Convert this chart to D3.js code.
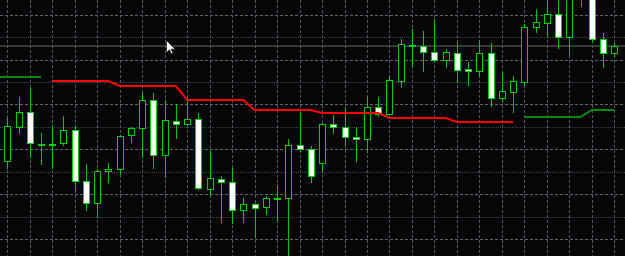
<!DOCTYPE html>
<html>
<head>
<meta charset="utf-8">
<script src="https://cdn.jsdelivr.net/npm/d3@7/dist/d3.min.js"></script>
<style>
  html, body { margin: 0; padding: 0; background: #060609; overflow: hidden; }
  svg { display: block; }
</style>
</head>
<body>
<svg id="chart" width="625" height="256"></svg>
<script>
// bars, oldest first; the first one sits just off the left edge
const barIndex = d3.range(-1, 55);

const open = [1.09872, 1.09839, 1.09873, 1.09888, 1.098565, 1.09855, 1.09857, 1.09870, 1.09819, 1.09797,
  1.09829, 1.09831, 1.09865, 1.09872, 1.09900, 1.09845, 1.09879, 1.09876, 1.09881, 1.09811,
  1.09821, 1.09818, 1.09790, 1.09796, 1.09793, 1.09801, 1.09802, 1.09855, 1.09851, 1.09837,
  1.09876, 1.09873, 1.09863, 1.09861, 1.09893, 1.09886, 1.09919, 1.099545, 1.09954, 1.09948,
  1.09940, 1.09947, 1.09931, 1.09929, 1.09947, 1.09902, 1.09908, 1.09918, 1.09973, 1.09977,
  1.09986, 1.09963, 1.10012, 1.10015, 1.09961, 1.09947];

const high = [1.09885, 1.09882, 1.09903, 1.09912, 1.09867, 1.09875, 1.09884, 1.09874, 1.09836, 1.09831,
  1.09837, 1.09865, 1.09873, 1.09907, 1.09907, 1.09900, 1.09896, 1.09903, 1.09887, 1.09849,
  1.09824, 1.09832, 1.09802, 1.09797, 1.09804, 1.09815, 1.09861, 1.09887, 1.09854, 1.09877,
  1.09885, 1.09892, 1.09873, 1.09903, 1.09903, 1.09924, 1.09961, 1.09971, 1.09969, 1.09981,
  1.09951, 1.09958, 1.09938, 1.09960, 1.09957, 1.09928, 1.09924, 1.09976, 1.09991, 1.10005,
  1.10008, 1.10020, 1.10035, 1.10020, 1.09967, 1.09957];

const low = [1.09868, 1.09831, 1.09866, 1.09842, 1.09835, 1.09831, 1.09854, 1.09809, 1.09789, 1.09783,
  1.09817, 1.09825, 1.09857, 1.09842, 1.09831, 1.09822, 1.09861, 1.09875, 1.09810, 1.09803,
  1.09777, 1.09776, 1.09777, 1.09762, 1.09785, 1.09778, 1.09738, 1.09848, 1.09817, 1.09827,
  1.09866, 1.09854, 1.09838, 1.09847, 1.09883, 1.09885, 1.09912, 1.09932, 1.09928, 1.09938,
  1.09932, 1.09917, 1.09914, 1.09923, 1.09893, 1.09898, 1.09887, 1.09914, 1.09967, 1.09963,
  1.09951, 1.09945, 1.09993, 1.09957, 1.09932, 1.09943];

const close = [1.09880, 1.09874, 1.09888, 1.09857, 1.09855, 1.09856, 1.09870, 1.09819, 1.09797, 1.09829,
  1.098315, 1.09864, 1.09872, 1.09900, 1.09845, 1.09880, 1.09876, 1.09881, 1.09812, 1.09822,
  1.09818, 1.09790, 1.09796, 1.09792, 1.09802, 1.09802, 1.09855, 1.09851, 1.09824, 1.09876,
  1.09873, 1.09863, 1.09861, 1.09893, 1.09886, 1.09920, 1.09956, 1.099555, 1.09948, 1.099405,
  1.09948, 1.09930, 1.09929, 1.09947, 1.09902, 1.09909, 1.09919, 1.09973, 1.09978, 1.09986,
  1.09963, 1.10010, 1.10025, 1.09961, 1.09947, 1.09954];

// trailing stop indicator, two buffers (null = empty value)
const stopDown = [null, null, null, null, null,
  1.09919, 1.09919, 1.09919, 1.09919, 1.09919, 1.09919,
  1.09914, 1.09914, 1.09914, 1.09914, 1.09914, 1.09914,
  1.09900, 1.09900, 1.09900, 1.09900, 1.09900, 1.09900,
  1.09890, 1.09890, 1.09890, 1.09890, 1.09890, 1.09890,
  1.09887, 1.09887, 1.09887, 1.09887, 1.09887, 1.09887,
  1.09882, 1.09882, 1.09882, 1.09882, 1.09882, 1.09882,
  1.09878, 1.09878, 1.09878, 1.09878, 1.09878, 1.09878,
  null, null, null, null, null, null, null, null, null];

const stopUp = [1.09923, 1.09923, 1.09923, 1.09923, 1.09923,
  null, null, null, null, null, null, null, null, null, null, null, null, null, null,
  null, null, null, null, null, null, null, null, null, null, null, null, null, null,
  null, null, null, null, null, null, null, null, null, null, null, null, null, null,
  1.09883, 1.09883, 1.09883, 1.09883, 1.09883, 1.09883,
  1.09890, 1.09890, 1.09890];

// price levels of the grid rows (right-hand price scale, not shown)
const gridLevels = [1.09985, 1.09963, 1.09940, 1.09918, 1.09896, 1.09873,
  1.09851, 1.09828, 1.09806, 1.09783, 1.09761];

const width = 625;
const height = 256;

const svg = d3.select('#chart');

const x = d3.scaleLinear().domain([0, 54]).range([7.3, 614.26]);
const y = d3.scaleLinear().domain([1.09744, 1.10000]).range([height, 0]);

const px = (v) => Math.round(v) + 0.5;

svg.append('rect')
  .attr('width', width)
  .attr('height', height)
  .attr('fill', '#060609');

// Grid
const grid = svg.append('g').attr('shape-rendering', 'crispEdges');

grid.selectAll('line.h')
  .data(gridLevels)
  .join('line')
  .attr('class', 'h')
  .attr('x1', 0)
  .attr('x2', width)
  .attr('y1', (d) => px(y(d)))
  .attr('y2', (d) => px(y(d)))
  .attr('stroke', (d, i) => (i % 2 ? '#3e444d' : '#5b6471'))
  .attr('stroke-dasharray', (d, i) => (i % 2 ? '1,1' : '3,2'));

grid.selectAll('line.v')
  .data(barIndex.filter((i) => i >= 0 && i % 2 === 0))
  .join('line')
  .attr('class', 'v')
  .attr('x1', (d) => px(x(d)))
  .attr('x2', (d) => px(x(d)))
  .attr('y1', 0)
  .attr('y2', height)
  .attr('stroke', '#4f5763')
  .attr('stroke-dasharray', '3,2');

// Bid line at the last close
const bid = close[close.length - 1];
svg.append('line')
  .attr('x1', 0)
  .attr('x2', width)
  .attr('y1', y(bid))
  .attr('y2', y(bid))
  .attr('stroke', '#4a4a4e')
  .attr('stroke-width', 1.6);

// Candles
const bars = barIndex.map((b, i) => ({
  b,
  o: open[i],
  h: high[i],
  l: low[i],
  c: close[i]
}));

const candle = svg.append('g')
  .attr('shape-rendering', 'crispEdges')
  .selectAll('g')
  .data(bars)
  .join('g');

candle.append('line')
  .attr('x1', (d) => px(x(d.b)))
  .attr('x2', (d) => px(x(d.b)))
  .attr('y1', (d) => Math.round(y(d.h)))
  .attr('y2', (d) => Math.round(y(d.l)))
  .attr('stroke', '#00c800');

candle.append('rect')
  .attr('x', (d) => Math.round(x(d.b)) - 3 + 0.5)
  .attr('width', 6)
  .attr('y', (d) => px(y(Math.max(d.o, d.c))))
  .attr('height', (d) => Math.max(1, Math.round(y(Math.min(d.o, d.c))) - Math.round(y(Math.max(d.o, d.c)))))
  .attr('fill', (d) => (d.c >= d.o ? '#000000' : '#ffffff'))
  .attr('stroke', '#00d000');

// Indicator lines
const stopLine = d3.line()
  .defined((d) => d.v != null)
  .x((d) => x(d.b))
  .y((d) => y(d.v));

svg.append('path')
  .datum(barIndex.map((b, i) => ({ b, v: stopDown[i] })))
  .attr('d', stopLine)
  .attr('fill', 'none')
  .attr('stroke', '#ff0000')
  .attr('stroke-width', 2);

svg.append('path')
  .datum(barIndex.map((b, i) => ({ b, v: stopUp[i] })))
  .attr('d', stopLine)
  .attr('fill', 'none')
  .attr('stroke', '#0a8c0a')
  .attr('stroke-width', 2);

// Mouse pointer
svg.append('path')
  .attr('d', 'M0,0 V15 L3.6,11.6 L6.2,17 L8.2,16 L5.8,10.8 H10.8 Z')
  .attr('transform', 'translate(166.5,40.5) scale(0.8)')
  .attr('fill', '#ffffff')
  .attr('stroke', '#222222')
  .attr('stroke-width', 1);
</script>
</body>
</html>
